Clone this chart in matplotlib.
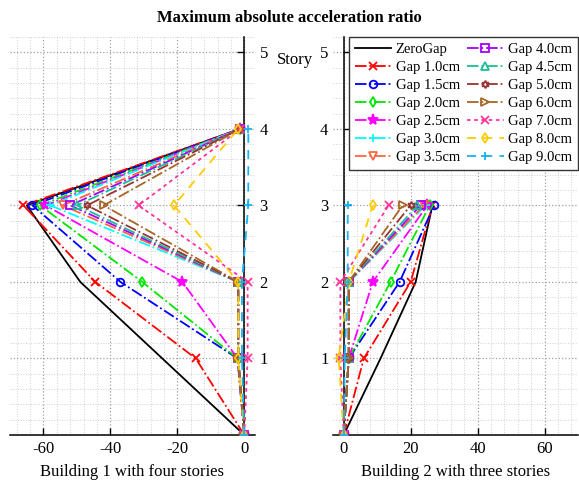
import matplotlib
matplotlib.use("Agg")
import matplotlib.pyplot as plt
from matplotlib.ticker import MultipleLocator

plt.rcParams['font.family'] = ['Liberation Serif', 'DejaVu Serif']
plt.rcParams['axes.unicode_minus'] = False

series_names = ["ZeroGap", "Gap 1.0cm", "Gap 1.5cm", "Gap 2.0cm", "Gap 2.5cm",
                "Gap 3.0cm", "Gap 3.5cm", "Gap 4.0cm", "Gap 4.5cm", "Gap 5.0cm",
                "Gap 6.0cm", "Gap 7.0cm", "Gap 8.0cm", "Gap 9.0cm"]

stories_b1 = [0, 1, 2, 3, 4]
stories_b2 = [0, 1, 2, 3]

# Building 1 (plotted as negative values)
b1_zero = [0, -24.5, -49, -65, -1.2]
b1_g10 = [0, -14.5, -44.5, -66, -1.2]
b1_g15 = [0, -2, -37, -63.3, -1.2]
b1_g20 = [0, -2, -30.5, -61, -1.2]
b1_g25 = [0, -2, -18.5, -59.4, -1.2]
b1_g30 = [0, -1.8, -1.8, -58, -1.2]
b1_g35 = [0, -1.8, -1.8, -54.3, -1.2]
b1_g40 = [0, -1.8, -1.8, -52, -1.2]
b1_g45 = [0, -1.8, -1.8, -50, -1.2]
b1_g50 = [0, -1.8, -1.8, -47, -1.2]
b1_g60 = [0, -1.8, -1.8, -42, -1.2]
b1_g70 = [0, 1.0, 1.0, -31.6, -1.2]
b1_g80 = [0, -1.8, -1.8, -21, -1.8]
b1_g90 = [0, -0.7, -0.7, 1.2, 1.2]

# Building 2
b2_zero = [0, 11, 21.5, 26.5]
b2_g10 = [0, 6, 20, 26.5]
b2_g15 = [0, 1.5, 16.7, 27]
b2_g20 = [0, 1.5, 14, 25.7]
b2_g25 = [0, 1.5, 8.7, 25]
b2_g30 = [0, 1.5, 1.5, 24.5]
b2_g35 = [0, 1.5, 1.5, 24]
b2_g40 = [0, 1.5, 1.5, 23]
b2_g45 = [0, 1.5, 1.5, 22]
b2_g50 = [0, 1.5, 1.5, 20]
b2_g60 = [0, 1.5, 1.5, 17.6]
b2_g70 = [0, -1, -1, 13.4]
b2_g80 = [0, -1.5, 1.5, 8.7]
b2_g90 = [0, 0.3, 1.2, 1.2]

b1_data = [b1_zero, b1_g10, b1_g15, b1_g20, b1_g25, b1_g30, b1_g35,
           b1_g40, b1_g45, b1_g50, b1_g60, b1_g70, b1_g80, b1_g90]
b2_data = [b2_zero, b2_g10, b2_g15, b2_g20, b2_g25, b2_g30, b2_g35,
           b2_g40, b2_g45, b2_g50, b2_g60, b2_g70, b2_g80, b2_g90]

styles = [
    dict(color='k', ls='-', marker=None),
    dict(color=(1, 0, 0), ls='-.', marker='x'),
    dict(color=(0, 0, 1), ls='-.', marker='o'),
    dict(color=(0, 0.9, 0), ls='-.', marker='d'),
    dict(color=(1, 0, 1), ls='-.', marker='*'),
    dict(color=(0, 1, 1), ls='-.', marker='+'),
    dict(color=(1, 0.4, 0.25), ls='-.', marker='v'),
    dict(color=(0.65, 0, 1), ls='-.', marker='s'),
    dict(color=(0.1, 0.75, 0.6), ls='-.', marker='^'),
    dict(color=(0.6, 0.2, 0.2), ls='-.', marker=(6, 1, 0)),
    dict(color=(0.65, 0.4, 0.15), ls='-.', marker='>'),
    dict(color=(1, 0.2, 0.6), ls=(0, (2, 2)), marker='x'),
    dict(color=(1, 0.8, 0), ls=(0, (5, 4)), marker='d'),
    dict(color=(0.1, 0.7, 0.95), ls=(0, (5, 4)), marker='+'),
]

W, H = 579, 484
fig = plt.figure(figsize=(W / 100, H / 100), dpi=100)
ax1 = fig.add_axes([10 / W, 1 - 435 / H, 245 / W, 398 / H])
ax2 = fig.add_axes([333 / W, 1 - 435 / H, 245 / W, 398 / H])

FS = 12


def plot_series(ax, data, stories):
    handles = []
    for name, vals, st in zip(series_names, data, styles):
        filled = st['marker'] in ('*',)
        h, = ax.plot(vals, stories, color=st['color'], linestyle=st['ls'],
                     marker=st['marker'], markersize=5.5 if st['marker'] != '*' else 8,
                     markerfacecolor=st['color'] if filled else 'none',
                     markeredgewidth=1.3, linewidth=1.3, label=name, zorder=3)
        handles.append(h)
    return handles


plot_series(ax1, b1_data, stories_b1)
handles = plot_series(ax2, b2_data, stories_b2)


def style_axes(ax, xlim, xticks, side):
    ax.set_xlim(*xlim)
    ax.set_ylim(0, 5.2)
    ax.set_xticks(xticks)
    ax.set_yticks([1, 2, 3, 4, 5])
    ax.xaxis.set_minor_locator(MultipleLocator(4))
    ax.yaxis.set_minor_locator(MultipleLocator(0.2))
    ax.grid(which='major', linestyle=':', color='#a0a0a0', linewidth=0.9)
    ax.grid(which='minor', linestyle=':', color='#d0d0d0', linewidth=0.7)
    ax.set_axisbelow(True)
    for s in ['top', 'left', 'right', 'bottom']:
        ax.spines[s].set_visible(False)
    ax.spines['bottom'].set_visible(True)
    ax.spines['bottom'].set_position(('data', 0))
    if side == 'right':
        ax.yaxis.tick_right()
        ax.spines['right'].set_visible(True)
        ax.spines['right'].set_position(('data', 0))
    else:
        ax.spines['left'].set_visible(True)
        ax.spines['left'].set_position(('data', 0))
    ax.tick_params(which='major', direction='in', length=5, width=1, labelsize=FS, pad=4)
    ax.tick_params(which='minor', length=0)
    ax.tick_params(axis='y', pad=11)
    for s in ax.spines.values():
        s.set_linewidth(1.1)
    ax.patch.set_alpha(0)


style_axes(ax1, (-70, 3.2), [-60, -40, -20, 0], 'right')
style_axes(ax2, (-3.2, 70), [0, 20, 40, 60], 'left')

ax1.set_xlabel("Building 1 with four stories", fontsize=FS, labelpad=5)
ax2.set_xlabel("Building 2 with three stories", fontsize=FS, labelpad=5)

fig.text(295 / W, 1 - 60 / H, "Story", fontsize=FS, ha='center', va='center')
fig.text(0.5, 1 - 18 / H, "Maximum absolute acceleration ratio", fontsize=FS,
         fontweight='bold', ha='center', va='center')

leg = ax2.legend(handles=handles, ncol=2, loc='upper right', fontsize=10.5,
                 frameon=True, fancybox=False, borderaxespad=0.0,
                 handlelength=2.5, handletextpad=0.3, columnspacing=0.5,
                 labelspacing=0.33, borderpad=0.4, framealpha=1)
leg.get_frame().set_edgecolor('#333333')
leg.get_frame().set_linewidth(1.0)
leg.set_zorder(10)

fig.savefig("out.png", dpi=100)
